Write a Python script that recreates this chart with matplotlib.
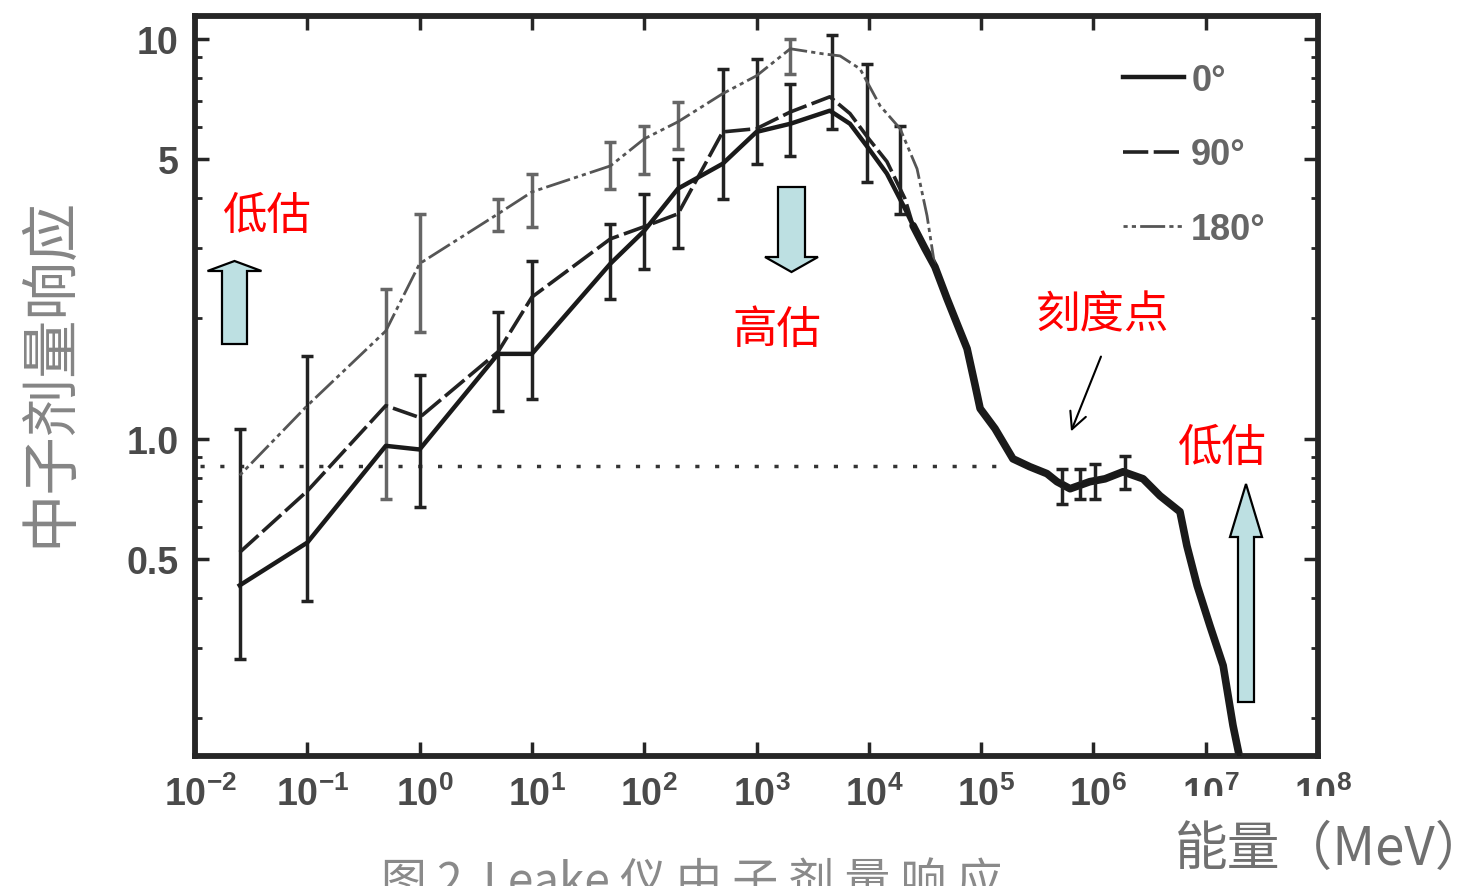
import numpy as np
import matplotlib
matplotlib.use("Agg")
import matplotlib.pyplot as plt
from matplotlib import font_manager
from matplotlib.patches import FancyArrow, Rectangle
from matplotlib.transforms import IdentityTransform, ScaledTranslation
from matplotlib.ticker import FixedLocator, NullLocator, NullFormatter

# fonts: narrow sans for numbers if present, CJK for Chinese text
installed = {f.name for f in font_manager.fontManager.ttflist}
num_font = "Liberation Sans Narrow" if "Liberation Sans Narrow" in installed else "Liberation Sans"
cjk_font = "Noto Sans CJK SC"
plt.rcParams["font.family"] = [num_font, cjk_font, "DejaVu Sans"]
plt.rcParams["mathtext.fontset"] = "custom"
plt.rcParams["mathtext.rm"] = num_font + ":bold"
plt.rcParams["mathtext.it"] = num_font + ":bold"
plt.rcParams["mathtext.bf"] = num_font + ":bold"

# response curves (energy in MeV, relative dose response)
e_0 = [0.025, 0.1, 0.5, 1.0, 5, 10, 50, 100, 200, 500, 1000, 2000, 4500, 6800, 1.0e4, 1.45e4, 2.1e4]
r_0 = [0.43, 0.55, 0.96, 0.94, 1.63, 1.63, 2.74, 3.31, 4.22, 4.87, 5.85, 6.13, 6.61, 6.13, 5.31, 4.6, 3.76]

e_90 = [0.025, 0.1, 0.5, 1.0, 5, 10, 50, 100, 200, 500, 1000, 2000, 4500, 6800, 1.0e4, 1.45e4, 2.1e4]
r_90 = [0.52, 0.74, 1.21, 1.13, 1.65, 2.26, 3.16, 3.39, 3.65, 5.85, 5.96, 6.56, 7.16, 6.5, 5.62, 4.93, 3.98]

e_180 = [0.025, 0.1, 0.5, 1.0, 5, 10, 50, 100, 200, 500, 1000, 2000, 3900, 5550, 8350, 1.26e4, 1.9e4, 2.69e4, 3.3e4]
r_180 = [0.81, 1.21, 1.86, 2.74, 3.65, 4.14, 4.81, 5.62, 6.2, 7.29, 8.08, 9.44, 9.17, 9.06, 8.41, 6.8, 5.96, 4.73, 3.61]

# high-energy part shared by all three orientations
tail_e = [2.48e4, 3.16e4, 3.88e4, 4.97e4, 6.1e4, 7.5e4, 8.8e4, 9.8e4, 1.33e5, 1.92e5, 2.72e5,
          3.86e5, 4.74e5, 6.2e5, 9.3e5, 1.27e6, 1.84e6, 2.77e6, 3.92e6, 5.9e6, 6.8e6, 8.4e6,
          1.09e7, 1.43e7, 1.75e7, 2.02e7]
tail_r = [3.41, 2.99, 2.69, 2.24, 1.94, 1.68, 1.37, 1.19, 1.06, 0.891, 0.851,
          0.818, 0.781, 0.750, 0.781, 0.794, 0.827, 0.794, 0.720, 0.657, 0.540, 0.429,
          0.341, 0.271, 0.192, 0.158]

# error bars: 180 deg points (grey) and the 0/90 deg points (dark)
bar180_e = [0.5, 1.0, 5, 10, 50, 100, 200, 2000]
bar180_lo = [0.708, 1.85, 3.31, 3.39, 4.22, 4.6, 5.31, 8.18]
bar180_hi = [2.37, 3.65, 3.98, 4.6, 5.53, 6.06, 6.96, 10.0]

bar_e = [0.025, 0.1, 1.0, 5, 10, 50, 100, 200, 500, 1000, 2000, 4700, 9650, 1.9e4,
         5.25e5, 7.6e5, 1.03e6, 1.91e6]
bar_lo = [0.282, 0.394, 0.676, 1.17, 1.26, 2.24, 2.66, 2.99, 3.98, 4.87, 5.1, 5.96, 4.39, 3.65,
          0.688, 0.708, 0.708, 0.750]
bar_hi = [1.06, 1.61, 1.44, 2.08, 2.79, 3.45, 4.1, 5.01, 8.41, 8.91, 7.72, 10.2, 8.66, 6.06,
          0.841, 0.841, 0.866, 0.907]

# calibration level
calib_e = [0.011, 1.8e5]
calib_r = 0.856

x_ticks = [1e-2, 1e-1, 1e0, 1e1, 1e2, 1e3, 1e4, 1e5, 1e6, 1e7, 1e8]
x_ticklabels = [r"$10^{-2}$", r"$10^{-1}$", r"$10^{0}$", r"$10^{1}$", r"$10^{2}$", r"$10^{3}$",
                r"$10^{4}$", r"$10^{5}$", r"$10^{6}$", r"$10^{7}$", r"$10^{8}$"]
y_ticks = [0.5, 1.0, 5, 10]
y_ticklabels = ["0.5", "1.0", "5", "10"]
labels = ["0°", "90°", "180°"]


def with_tail(e, r):
    e = list(e)
    r = list(r)
    for te, tr in zip(tail_e, tail_r):
        if te > e[-1]:
            e.append(te)
            r.append(tr)
    return e, r


W, H = 1475, 887
fig = plt.figure(figsize=(W / 100, H / 100), dpi=100)
ax = fig.add_axes([195 / W, 1 - 757 / H, (1318 - 195) / W, (757 - 17) / H])
ax.set_xscale("log")
ax.set_yscale("log")
ax.set_xlim(1e-2, 1e8)
ax.set_ylim(0.161, 11.4)

ax.plot(calib_e, [calib_r, calib_r], color="#333333", lw=2.5, dashes=(1.2, 4.5), zorder=1)

x180, y180 = with_tail(e_180, r_180)
x90, y90 = with_tail(e_90, r_90)
x0, y0 = with_tail(e_0, r_0)
l180, = ax.plot(x180, y180, color="#555555", lw=2.0, dashes=(1.5, 1.5, 1.5, 1.5, 9, 1.5), zorder=3)
l90, = ax.plot(x90, y90, color="#222222", lw=2.6, dashes=(7, 1.5), zorder=3)
l0, = ax.plot(x0, y0, color="#1a1a1a", lw=3.2, zorder=4)
# thicken the overlapping high-energy section
ax.plot(tail_e, tail_r, color="#1a1a1a", lw=5.5, zorder=2, solid_capstyle="round")

bar180_lo = np.array(bar180_lo)
bar_lo = np.array(bar_lo)
ax.errorbar(bar180_e, bar180_lo, yerr=[np.zeros(len(bar180_lo)), np.array(bar180_hi) - bar180_lo],
            fmt="none", ecolor="#666666", elinewidth=2.5, capsize=4, capthick=2.5, zorder=2)
ax.errorbar(bar_e, bar_lo, yerr=[np.zeros(len(bar_lo)), np.array(bar_hi) - bar_lo],
            fmt="none", ecolor="#222222", elinewidth=2.5, capsize=4, capthick=2.5, zorder=2)

# axes styling
for s in ax.spines.values():
    s.set_linewidth(4.2)
    s.set_color("#262626")
ax.xaxis.set_major_locator(FixedLocator(x_ticks))
ax.xaxis.set_minor_locator(NullLocator())
ax.set_xticklabels(x_ticklabels)
ax.yaxis.set_major_locator(FixedLocator(y_ticks))
ax.yaxis.set_minor_locator(FixedLocator([0.2, 0.3, 0.4, 0.6, 0.7, 0.8, 0.9, 2, 3, 4, 6, 7, 8, 9]))
ax.yaxis.set_minor_formatter(NullFormatter())
ax.set_yticklabels(y_ticklabels)
ax.tick_params(which="major", direction="in", length=10, width=2.5, top=True, right=True,
               color="#262626", labelsize=27, labelcolor="#4a4a4a")
ax.tick_params(which="minor", direction="in", length=5, width=2, top=True, right=True, color="#262626")
ax.tick_params(axis="x", pad=14)
ax.tick_params(axis="y", pad=12)
for t in ax.get_yticklabels():
    t.set_fontweight("bold")
shift = ScaledTranslation(5 / 100, 0, fig.dpi_scale_trans)
for t in ax.get_xticklabels():
    t.set_transform(t.get_transform() + shift)

leg = ax.legend([l0, l90, l180], labels, loc="upper left", bbox_to_anchor=(0.826, 0.937),
                frameon=False, fontsize=26, handlelength=1.7, handletextpad=0.2,
                labelspacing=1.1, borderpad=0, borderaxespad=0)
for t in leg.get_texts():
    t.set_color("#666666")
    t.set_fontweight("bold")

# axis titles
fig.text(50 / W, 1 - 372 / H, "中子剂量响应", rotation=90, ha="center", va="center",
         fontsize=42, color="#858585", family=[cjk_font, "DejaVu Sans"])
fig.add_artist(Rectangle((1160 / W, 0), (W - 1160) / W, 1 - 797 / H, transform=fig.transFigure,
                         facecolor="white", edgecolor="none", zorder=3))
fig.text(1175 / W, 1 - 822 / H, "能量（MeV）", ha="left", va="top", fontsize=38,
         color="#707070", family=[cjk_font, "DejaVu Sans"], zorder=4)
fig.text(692 / W, 1 - 858 / H, "图 2  Leake 仪 中 子 剂 量 响 应", ha="center", va="top", fontsize=33,
         color="#8a8a8a", family=[cjk_font, "DejaVu Sans"], zorder=4)

# red notes
notes = [("低估", 267, 216), ("高估", 777, 330), ("刻度点", 1102, 315), ("低估", 1222, 448)]
for txt, px, py in notes:
    fig.text(px / W, 1 - py / H, txt, ha="center", va="center", fontsize=32, color="#ff0000",
             family=[cjk_font, "DejaVu Sans"], zorder=5)

# block arrows (pixel positions)
arrows = [(234.5, H - 345, 0, 83, 25, 54, 10),
          (791.5, H - 188, 0, -85, 27, 53, 15),
          (1246, H - 703, 0, 218, 16, 32, 53)]
for x, y, dx, dy, w, hw, hl in arrows:
    fig.add_artist(FancyArrow(x, y, dx, dy, width=w, head_width=hw, head_length=hl,
                              length_includes_head=True, facecolor="#bde0e2", edgecolor="black",
                              lw=1.6, transform=IdentityTransform(), zorder=5))

ax.annotate("", xy=(1070, H - 435), xycoords="figure pixels", xytext=(1102, H - 355),
            textcoords="figure pixels",
            arrowprops=dict(arrowstyle="->", lw=1.5, color="black", mutation_scale=30))

fig.savefig("out.png", dpi=100, facecolor="white")
